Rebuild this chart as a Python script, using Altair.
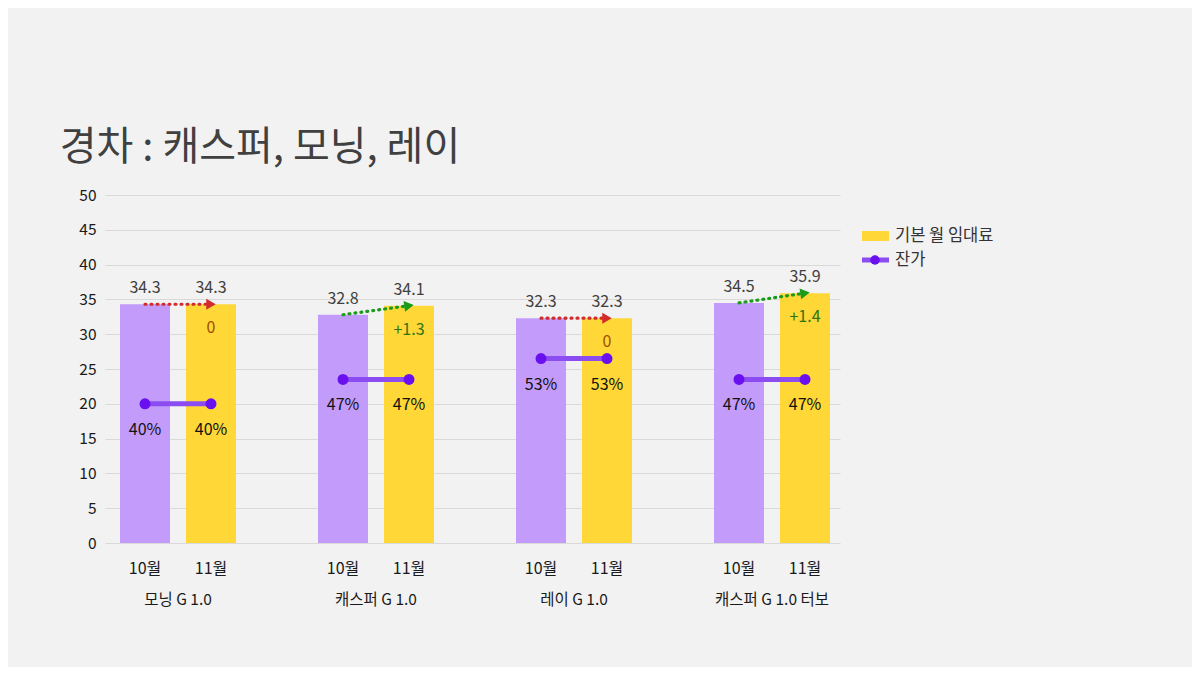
import math
import altair as alt
import pandas as pd

# ---------------- data ----------------
groups = ["모닝 G 1.0", "캐스퍼 G 1.0", "레이 G 1.0", "캐스퍼 G 1.0 터보"]
months = ["10월", "11월"]
rent_oct = [34.3, 32.8, 32.3, 34.5]
rent_nov = [34.3, 34.1, 32.3, 35.9]
resid_oct = [40, 47, 53, 47]
resid_nov = [40, 47, 53, 47]
y_ticks = [0, 5, 10, 15, 20, 25, 30, 35, 40, 45, 50]
legend_labels = ["기본 월 임대료", "잔가"]
title_text = "경차 : 캐스퍼, 모닝, 레이"

# ---------------- style ----------------
FONT = "Noto Sans CJK KR"
BG = "#f2f2f2"
PURPLE_BAR = "#c29bfb"
YELLOW_BAR = "#ffd737"
LINE_PURPLE = "#8b4cf2"
DOT_PURPLE = "#6a10ee"
RED = "#d22b2b"
GREEN = "#1c9a1c"
DIFF_FLAT = "#a05000"
DIFF_UP = "#2f7412"
W, H = 735, 348
X_DOMAIN = [-0.106, 11.03]
Y_MAX = 50
PCT_MAX = 100

rows = []
for gi, g in enumerate(groups):
    rents = [rent_oct[gi], rent_nov[gi]]
    resids = [resid_oct[gi], resid_nov[gi]]
    for mi, m in enumerate(months):
        rows.append(dict(group=g, month=m, slot=gi * 3 + mi + 0.5,
                         rent=rents[mi], resid=resids[mi],
                         rent_label=f"{rents[mi]:.1f}",
                         resid_label=f"{resids[mi]}%"))
df = pd.DataFrame(rows)

oct_df = df[df.month == "10월"].reset_index(drop=True)
nov_df = df[df.month == "11월"].reset_index(drop=True).copy()
nov_df["diff"] = (nov_df["rent"] - oct_df["rent"]).round(1)
nov_df["diff_label"] = nov_df["diff"].apply(lambda d: "0" if d == 0 else f"+{d:.1f}")
px_y = H / Y_MAX
px_x = W / (X_DOMAIN[1] - X_DOMAIN[0])
nov_df["angle"] = nov_df["diff"].apply(
    lambda d: (360 - math.degrees(math.atan2(d * px_y, px_x))) % 360)

arrow_df = df[["group", "month", "slot", "rent"]].copy()
arrow_df = arrow_df.merge(nov_df[["group", "diff"]], on="group")

group_df = pd.DataFrame({"group": groups,
                         "center": [gi * 3 + 1 for gi in range(len(groups))]})

xs = alt.Scale(domain=X_DOMAIN, nice=False, zero=False, padding=0)
ys = alt.Scale(domain=[0, Y_MAX], nice=False, padding=0)
ps = alt.Scale(domain=[0, PCT_MAX], nice=False, padding=0)

y_axis = alt.Axis(values=y_ticks, domain=False, ticks=False, labelOverlap=False,
                  labelFontSize=15.5, labelColor="#1a1a1a", labelFont=FONT,
                  labelPadding=9, gridColor="#d9d9d9", gridWidth=1, title=None)

X = alt.X("slot:Q", scale=xs, axis=None)
Y = alt.Y("rent:Q", scale=ys, axis=y_axis, title=None)

bars = alt.Chart(df).mark_bar(size=50).encode(
    x=X, y=Y,
    color=alt.Color("month:N", scale=alt.Scale(domain=months, range=[PURPLE_BAR, YELLOW_BAR]),
                    legend=None),
)

bar_labels = alt.Chart(df).mark_text(dy=-16, fontSize=16, font=FONT, color="#404040").encode(
    x=X, y=Y, text="rent_label:N")

arrows = alt.Chart(arrow_df).mark_line(strokeDash=[1, 5], strokeWidth=3.2, strokeCap="round").encode(
    x=X, y=Y, detail="group:N", order="slot:Q",
    color=alt.condition("datum.diff > 0", alt.value(GREEN), alt.value(RED)))

heads = alt.Chart(nov_df).mark_point(shape="triangle-right", filled=True, size=120, opacity=1).encode(
    x=X, y=Y,
    angle=alt.Angle("angle:Q", scale=None),
    color=alt.condition("datum.diff > 0", alt.value(GREEN), alt.value(RED)))

diff_labels = alt.Chart(nov_df).mark_text(dy=24, fontSize=16, font=FONT).encode(
    x=X, y=Y, text="diff_label:N",
    color=alt.condition("datum.diff > 0", alt.value(DIFF_UP), alt.value(DIFF_FLAT)))

month_labels = alt.Chart(df).mark_text(fontSize=16, font=FONT, color="#1a1a1a").encode(
    x=X, y=alt.value(374), text="month:N")

group_labels = alt.Chart(group_df).mark_text(fontSize=15.5, font=FONT, color="#1a1a1a").encode(
    x=alt.X("center:Q", scale=xs, axis=None), y=alt.value(405), text="group:N")

rent_layer = alt.layer(bars, bar_labels, arrows, heads, diff_labels, month_labels, group_labels)

YP = alt.Y("resid:Q", scale=ps, axis=None)
resid_line = alt.Chart(df).mark_line(strokeWidth=5, color=LINE_PURPLE).encode(
    x=X, y=YP, detail="group:N")
resid_dots = alt.Chart(df).mark_circle(size=120, color=DOT_PURPLE, opacity=1).encode(
    x=X, y=YP)
resid_text = alt.Chart(df).mark_text(dy=26, fontSize=16, font=FONT, color="#111111").encode(
    x=X, y=YP, text="resid_label:N")

resid_layer = alt.layer(resid_line, resid_dots, resid_text)

# legend (drawn manually)
leg1 = pd.DataFrame({"label": [legend_labels[0]]})
leg2 = pd.DataFrame({"label": [legend_labels[1]]})
leg_rect = alt.Chart(leg1).mark_rect(color=YELLOW_BAR).encode(
    x=alt.value(757), x2=alt.value(784), y=alt.value(36), y2=alt.value(46))
leg_text1 = alt.Chart(leg1).mark_text(align="left", baseline="middle", fontSize=16.5, font=FONT,
                                      color="#333333").encode(
    x=alt.value(790), y=alt.value(41), text="label:N")
leg_line = alt.Chart(leg2).mark_rule(color=LINE_PURPLE, strokeWidth=5).encode(
    x=alt.value(757), x2=alt.value(784), y=alt.value(65))
leg_dot = alt.Chart(leg2).mark_circle(color=DOT_PURPLE, size=90, opacity=1).encode(
    x=alt.value(770), y=alt.value(65))
leg_text2 = alt.Chart(leg2).mark_text(align="left", baseline="middle", fontSize=16.5, font=FONT,
                                      color="#333333").encode(
    x=alt.value(790), y=alt.value(65), text="label:N")
legend_layer = alt.layer(leg_rect, leg_text1, leg_line, leg_dot, leg_text2)

chart = alt.layer(rent_layer, resid_layer, legend_layer).resolve_scale(y="independent").properties(
    width=W, height=H,
    title=alt.Title(title_text, anchor="start", dx=-19, offset=20, fontSize=40, font=FONT,
                    fontWeight="normal", color="#404040"),
    autosize=alt.AutoSizeParams(type="none"),
    padding={"left": 97, "top": 187, "right": 352, "bottom": 124},
    background=BG,
).configure_view(stroke=None)

chart.save("out.html", embed_options={"renderer": "svg", "actions": False})
